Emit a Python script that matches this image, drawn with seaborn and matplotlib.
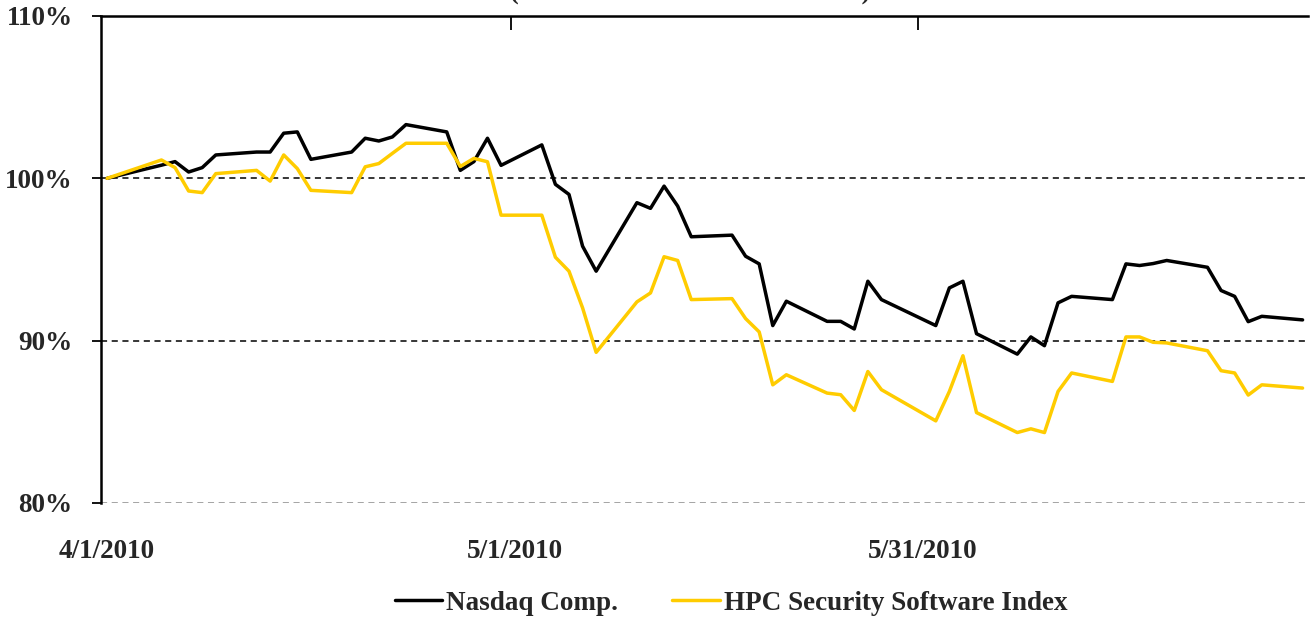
import numpy as np
import pandas as pd
import matplotlib
matplotlib.use("Agg")
import matplotlib.pyplot as plt
import seaborn as sns

# ---------------- data ----------------
dates = [
    "2010-04-01", "2010-04-05", "2010-04-06", "2010-04-07", "2010-04-08", "2010-04-09",
    "2010-04-12", "2010-04-13", "2010-04-14", "2010-04-15", "2010-04-16",
    "2010-04-19", "2010-04-20", "2010-04-21", "2010-04-22", "2010-04-23",
    "2010-04-26", "2010-04-27", "2010-04-28", "2010-04-29", "2010-04-30",
    "2010-05-03", "2010-05-04", "2010-05-05", "2010-05-06", "2010-05-07",
    "2010-05-10", "2010-05-11", "2010-05-12", "2010-05-13", "2010-05-14",
    "2010-05-17", "2010-05-18", "2010-05-19", "2010-05-20", "2010-05-21",
    "2010-05-24", "2010-05-25", "2010-05-26", "2010-05-27", "2010-05-28",
    "2010-06-01", "2010-06-02", "2010-06-03", "2010-06-04",
    "2010-06-07", "2010-06-08", "2010-06-09", "2010-06-10", "2010-06-11",
    "2010-06-14", "2010-06-15", "2010-06-16", "2010-06-17", "2010-06-18",
    "2010-06-21", "2010-06-22", "2010-06-23", "2010-06-24", "2010-06-25",
    "2010-06-28",
]

nasdaq = [
    100.00, 100.81, 101.03, 100.39, 100.66, 101.44,
    101.62, 101.62, 102.78, 102.86, 101.17,
    101.62, 102.47, 102.30, 102.55, 103.31,
    102.86, 100.49, 101.03, 102.47, 100.80,
    102.06, 99.63, 99.01, 95.82, 94.28,
    98.50, 98.15, 99.52, 98.29, 96.40,
    96.50, 95.20, 94.73, 90.93, 92.43,
    91.19, 91.19, 90.72, 93.66, 92.53,
    90.93, 93.25, 93.66, 90.43,
    89.17, 90.23, 89.69, 92.33, 92.73,
    92.53, 94.73, 94.63, 94.75, 94.94,
    94.52, 93.09, 92.73, 91.17, 91.50,
    91.28,
]

hpc = [
    100.00, 101.13, 100.66, 99.22, 99.12, 100.29,
    100.49, 99.83, 101.44, 100.60, 99.26,
    99.12, 100.71, 100.91, 101.54, 102.16,
    102.16, 100.73, 101.23, 101.02, 97.73,
    97.73, 95.14, 94.28, 92.02, 89.28,
    92.39, 92.94, 95.17, 94.94, 92.53,
    92.59, 91.36, 90.54, 87.28, 87.90,
    86.77, 86.67, 85.70, 88.10, 86.98,
    85.06, 86.87, 89.07, 85.57,
    84.34, 84.57, 84.34, 86.87, 88.01,
    87.49, 90.23, 90.23, 89.90, 89.86,
    89.38, 88.15, 88.01, 86.65, 87.28,
    87.08,
]

series_names = ["Nasdaq Comp.", "HPC Security Software Index"]
series_colors = ["#000000", "#FFCC00"]
x_tick_dates = ["2010-04-01", "2010-05-01", "2010-05-31"]
x_tick_labels = ["4/1/2010", "5/1/2010", "5/31/2010"]
y_ticks = [80, 90, 100, 110]
y_tick_labels = ["80%", "90%", "100%", "110%"]
title_text = "(Indexed Relative Performance)"

# ---------------- build frame ----------------
start = pd.Timestamp(dates[0])
day = (pd.to_datetime(dates) - start).days.astype(float)
df = pd.concat([
    pd.DataFrame({"day": day, "value": nasdaq, "series": series_names[0]}),
    pd.DataFrame({"day": day, "value": hpc, "series": series_names[1]}),
], ignore_index=True)

sns.set_theme(style="white")
plt.rcParams["font.family"] = ["Liberation Serif", "DejaVu Serif"]
plt.rcParams["font.weight"] = "bold"

W, H = 1311, 618
fig = plt.figure(figsize=(W / 100, H / 100), dpi=100)
ax = fig.add_axes([101 / W, 1 - 503 / H, (1308 - 101) / W, (503 - 16) / H])

sns.lineplot(data=df, x="day", y="value", hue="series", hue_order=series_names,
             palette=series_colors, linewidth=2.5, ax=ax, legend=False,
             estimator=None, sort=False)

ax.set_xlim(-0.45, 88.4)
ax.set_ylim(80, 110)

# horizontal reference lines
for yv in y_ticks:
    col = "#000000" if yv in (90, 100) else "#8c8c8c"
    ax.axhline(yv, color=col, lw=1.1, ls=(0, (4, 3)), zorder=1)

# spines
for s in ["right", "bottom"]:
    ax.spines[s].set_visible(False)
ax.spines["left"].set_color("black")
ax.spines["left"].set_linewidth(1.8)
ax.spines["top"].set_color("black")
ax.spines["top"].set_linewidth(1.8)
ax.spines["top"].set_zorder(3)

# y ticks
ax.set_yticks(y_ticks)
ax.set_yticklabels(y_tick_labels, fontsize=19.5, fontweight="bold")
ax.tick_params(axis="y", which="major", left=True, direction="out", length=6.5,
               width=1.3, color="black", pad=14)

# x ticks: labels at bottom (no marks), small marks at top
tick_days = [(pd.Timestamp(d) - start).days for d in x_tick_dates]
ax.set_xticks(tick_days)
ax.set_xticklabels(x_tick_labels, fontsize=19.5, fontweight="bold")
ax.tick_params(axis="x", which="major", bottom=True, top=False, length=0, pad=26)
ax.set_xticks([t - 0.3 for t in tick_days[1:]], minor=True)
ax.tick_params(axis="x", which="minor", top=True, bottom=False, direction="in",
               length=10, width=1.3, color="black")
ax.set_xlabel("")
ax.set_ylabel("")

# title, cut off at the top edge as in the reference
fig.text(690 / W, 1 + 1 / H, title_text, ha="center",
         va="baseline", fontsize=19, fontweight="bold")

# legend
handles = [plt.Line2D([], [], color=c, lw=2.5) for c in series_colors]
fig.legend(handles, series_names, loc="center", bbox_to_anchor=(731 / W, 1 - 603 / H),
           ncol=2, frameon=False, prop={"size": 19.5, "weight": "bold"},
           handlelength=1.75, handletextpad=0.15, columnspacing=2.0)

fig.savefig("out.png", dpi=100)
